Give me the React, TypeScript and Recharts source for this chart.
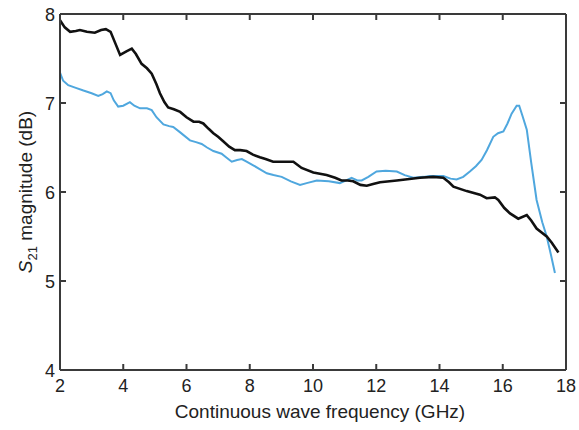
import React from "react";
import { LineChart, Line, XAxis, YAxis } from "recharts";

const blackFreq = [2.0, 2.15, 2.32, 2.5, 2.63, 2.85, 3.1, 3.3, 3.45, 3.6, 3.75, 3.9, 4.1, 4.27, 4.4, 4.58, 4.75, 4.9, 5.05, 5.16, 5.3, 5.42, 5.6, 5.8, 6.0, 6.22, 6.4, 6.53, 6.7, 6.85, 7.0, 7.16, 7.35, 7.53, 7.7, 7.9, 8.1, 8.32, 8.5, 8.74, 9.0, 9.38, 9.64, 10.01, 10.43, 10.7, 10.9, 11.1, 11.27, 11.5, 11.7, 11.9, 12.12, 12.65, 13.38, 13.8, 14.12, 14.3, 14.44, 14.86, 15.28, 15.49, 15.75, 15.86, 16.05, 16.23, 16.49, 16.76, 16.9, 17.07, 17.39, 17.55, 17.76];
const blackMag = [7.93, 7.85, 7.8, 7.81, 7.82, 7.8, 7.79, 7.82, 7.83, 7.8, 7.67, 7.54, 7.58, 7.61, 7.55, 7.44, 7.39, 7.33, 7.21, 7.11, 7.01, 6.95, 6.93, 6.9, 6.84, 6.79, 6.79, 6.77, 6.71, 6.66, 6.62, 6.57, 6.51, 6.47, 6.47, 6.46, 6.42, 6.39, 6.37, 6.34, 6.34, 6.34, 6.27, 6.22, 6.19, 6.16, 6.13, 6.13, 6.12, 6.08, 6.07, 6.09, 6.11, 6.13, 6.16, 6.17, 6.16, 6.11, 6.06, 6.01, 5.97, 5.93, 5.94, 5.91, 5.82, 5.76, 5.7, 5.74, 5.68, 5.59, 5.5, 5.43, 5.32];

const blueFreq = [2.0, 2.1, 2.26, 2.5, 2.74, 3.0, 3.21, 3.35, 3.48, 3.6, 3.7, 3.84, 4.0, 4.21, 4.35, 4.53, 4.75, 4.9, 5.05, 5.27, 5.45, 5.58, 5.8, 6.11, 6.3, 6.48, 6.65, 6.85, 7.11, 7.25, 7.43, 7.6, 7.75, 7.9, 8.11, 8.3, 8.54, 8.75, 9.01, 9.3, 9.59, 9.8, 10.12, 10.5, 10.85, 11.05, 11.22, 11.4, 11.54, 11.75, 12.01, 12.3, 12.65, 12.9, 13.17, 13.5, 13.7, 14.12, 14.35, 14.54, 14.75, 14.96, 15.15, 15.33, 15.5, 15.7, 15.85, 16.02, 16.15, 16.28, 16.44, 16.52, 16.62, 16.76, 16.9, 17.07, 17.25, 17.39, 17.52, 17.65];
const blueMag = [7.34, 7.25, 7.2, 7.17, 7.14, 7.11, 7.08, 7.1, 7.13, 7.11, 7.03, 6.96, 6.97, 7.01, 6.97, 6.94, 6.94, 6.92, 6.84, 6.76, 6.74, 6.73, 6.67, 6.58, 6.56, 6.54, 6.5, 6.46, 6.43, 6.39, 6.34, 6.36, 6.37, 6.34, 6.3, 6.26, 6.21, 6.19, 6.17, 6.12, 6.08, 6.1, 6.13, 6.12, 6.1, 6.13, 6.16, 6.13, 6.13, 6.17, 6.23, 6.24, 6.23, 6.19, 6.16, 6.17, 6.18, 6.18, 6.15, 6.14, 6.17, 6.23, 6.29, 6.36, 6.47, 6.62, 6.66, 6.68, 6.77, 6.88, 6.97, 6.97, 6.86, 6.7, 6.33, 5.91, 5.66, 5.5, 5.3, 5.09];

const xTicks = [2, 4, 6, 8, 10, 12, 14, 16, 18];
const yTicks = [4, 5, 6, 7, 8];
const xTitle = "Continuous wave frequency (GHz)";

const blackData = blackFreq.map((f, i) => ({ f, v: blackMag[i] }));
const blueData = blueFreq.map((f, i) => ({ f, v: blueMag[i] }));

const FONT = "'Liberation Sans', Arial, Helvetica, sans-serif";
const AX = "#3a3a3a";
const AXW = 2;
const TICK_LEN = 6;

const BottomTick = (props: any) => {
  const { x, y, payload } = props;
  const inner = payload.value !== 2 && payload.value !== 18;
  return (
    <g>
      {inner && <line x1={x} y1={y} x2={x} y2={y - TICK_LEN} stroke={AX} strokeWidth={AXW} />}
      <text x={x} y={y + 22} textAnchor="middle" fontSize={18} fontFamily={FONT} fill="#222">
        {payload.value}
      </text>
    </g>
  );
};

const TopTick = (props: any) => {
  const { x, y, payload } = props;
  const inner = payload.value !== 2 && payload.value !== 18;
  return <g>{inner && <line x1={x} y1={y} x2={x} y2={y + TICK_LEN} stroke={AX} strokeWidth={AXW} />}</g>;
};

const LeftTick = (props: any) => {
  const { x, y, payload } = props;
  const inner = payload.value !== 4 && payload.value !== 8;
  return (
    <g>
      {inner && <line x1={x} y1={y} x2={x + TICK_LEN} y2={y} stroke={AX} strokeWidth={AXW} />}
      <text x={x - 5} y={y} dy={6.5} textAnchor="end" fontSize={18} fontFamily={FONT} fill="#222">
        {payload.value}
      </text>
    </g>
  );
};

const RightTick = (props: any) => {
  const { x, y, payload } = props;
  const inner = payload.value !== 4 && payload.value !== 8;
  return <g>{inner && <line x1={x} y1={y} x2={x - TICK_LEN} y2={y} stroke={AX} strokeWidth={AXW} />}</g>;
};

const XTitle = () => (
  <text x={320} y={418} textAnchor="middle" fontSize={19} fontFamily={FONT} fill="#222">
    {xTitle}
  </text>
);

const TopLabel = () => (
  <text
    x={32}
    y={192}
    transform="rotate(-90, 32, 192)"
    textAnchor="middle"
    fontSize={19}
    fontFamily={FONT}
    fill="#222"
  >
    <tspan fontStyle="italic">S</tspan>
    <tspan fontSize={13} dy={5}>21</tspan>
    <tspan dy={-5}> magnitude (dB)</tspan>
  </text>
);

export default function App() {
  return (
    <div style={{ position: "absolute", left: 0, top: 0, width: 579, height: 430, background: "#fff" }}>
      <LineChart width={579} height={430} margin={{ top: 13, right: 12, bottom: 30, left: 0 }}>
        <XAxis xAxisId="b" dataKey="f" type="number" domain={[2, 18]} ticks={xTicks} height={30}
          tickSize={0} tickMargin={0} tickLine={false} axisLine={{ stroke: AX, strokeWidth: AXW }}
          tick={<BottomTick />} label={<XTitle />} />
        <XAxis xAxisId="t" orientation="top" dataKey="f" type="number" domain={[2, 18]} ticks={xTicks} height={1}
          tickSize={0} tickMargin={0} tickLine={false} axisLine={{ stroke: AX, strokeWidth: AXW }}
          tick={<TopTick />} label={<TopLabel />} />
        <YAxis yAxisId="l" type="number" domain={[4, 8]} ticks={yTicks} width={60}
          tickSize={0} tickMargin={0} tickLine={false} axisLine={{ stroke: AX, strokeWidth: AXW }}
          tick={<LeftTick />} />
        <YAxis yAxisId="r" orientation="right" type="number" domain={[4, 8]} ticks={yTicks} width={1}
          tickSize={0} tickMargin={0} tickLine={false} axisLine={{ stroke: AX, strokeWidth: AXW }}
          tick={<RightTick />} />
        <Line xAxisId="t" yAxisId="r" data={blueData} dataKey="v" stroke="#4fa7de"
          strokeWidth={2} dot={false} isAnimationActive={false} />
        <Line xAxisId="b" yAxisId="l" data={blackData} dataKey="v" stroke="#111"
          strokeWidth={2.6} dot={false} isAnimationActive={false} />
      </LineChart>
    </div>
  );
}
